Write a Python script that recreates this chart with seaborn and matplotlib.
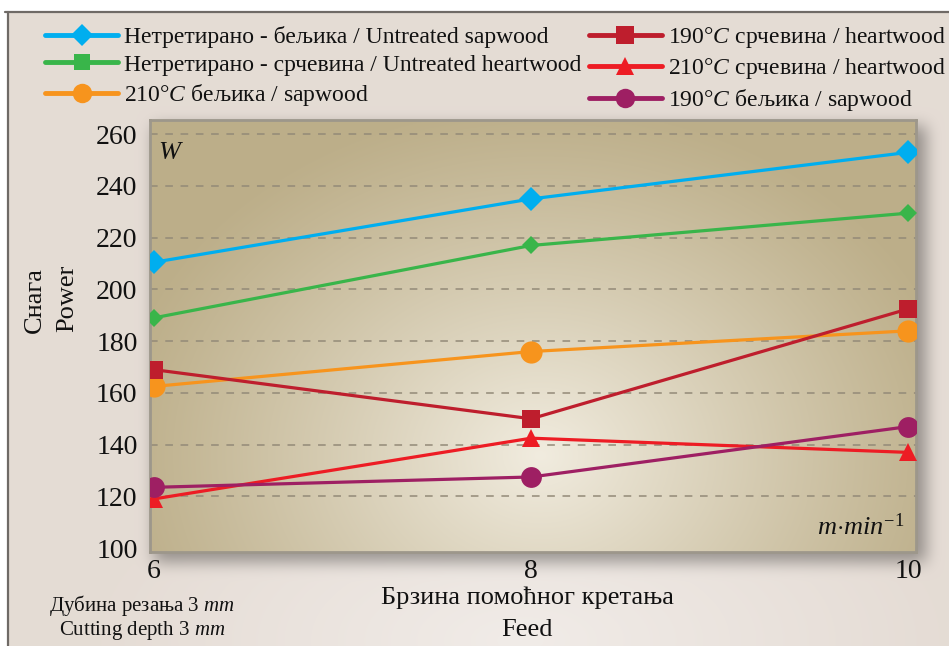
import numpy as np
import matplotlib
matplotlib.use("Agg")
import matplotlib.pyplot as plt
from matplotlib import font_manager
from matplotlib.font_manager import FontProperties
import seaborn as sns
from matplotlib.lines import Line2D

# ---- data -------------------------------------------------------------
feed = [6, 8, 10]
untreated_sapwood = [210.5, 235, 253]
untreated_heartwood = [189, 217, 229.5]
t210_sapwood = [162.5, 176, 184]
t190_heartwood = [169, 150, 192.5]
t210_heartwood = [119, 142.5, 137]
t190_sapwood = [123.5, 127.5, 147]

series_labels = [
    "Нетретирано - бељика / Untreated sapwood",
    "Нетретирано - срчевина / Untreated heartwood",
    "210°$C$ бељика / sapwood",
    "190°$C$ срчевина / heartwood",
    "210°$C$ срчевина / heartwood",
    "190°$C$ бељика / sapwood",
]
y_ticks = [100, 120, 140, 160, 180, 200, 220, 240, 260]
x_ticks = [6, 8, 10]

# ---- style ------------------------------------------------------------
sns.set_theme(style="white")
SERIF = "Liberation Serif"


def serif_file():
    for f in font_manager.fontManager.ttflist:
        if f.name == SERIF and f.style == "normal" and f.weight in (400, "normal"):
            return f.fname
    return font_manager.findfont(FontProperties(family="serif"))


SERIF_FILE = serif_file()


def fp(size):
    return FontProperties(fname=SERIF_FILE, size=size)


plt.rcParams["font.family"] = SERIF
plt.rcParams["mathtext.fontset"] = "custom"
plt.rcParams["mathtext.rm"] = SERIF
plt.rcParams["mathtext.it"] = SERIF + ":italic"
INK = "#111111"

colors = ["#00AEEF", "#39B54A", "#F7941D", "#BE1E2D", "#ED1C24", "#9E1F63"]
markers = ["D", "D", "o", "s", "^", "o"]
legend_markers = ["D", "s", "o", "s", "^", "o"]
msizes = [12, 9.5, 16, 13, 13, 15]
legend_msizes = [11, 12, 14, 13, 13, 14]

W, H = 949, 646
fig = plt.figure(figsize=(W / 100, H / 100), dpi=100)

# plot rectangle in pixels (left, top, right, bottom)
L, T, R, B = 150, 120, 916, 552


def box_blur(a, r, axis):
    pad = [(0, 0)] * a.ndim
    pad[axis] = (r + 1, r)
    c = np.cumsum(np.pad(a, pad, mode="edge"), axis=axis)
    n = a.shape[axis]
    hi = np.take(c, np.arange(2 * r + 1, 2 * r + 1 + n), axis=axis)
    lo = np.take(c, np.arange(0, n), axis=axis)
    return (hi - lo) / (2 * r + 1)


def blur(a, r):
    for _ in range(3):
        a = box_blur(a, r, 0)
        a = box_blur(a, r, 1)
    return a


# ---- page background with soft shadow under the plot panel -----------
yy, xx = np.mgrid[0:H, 0:W].astype(float)
base = np.array([0.898, 0.863, 0.835])
light = np.array([0.945, 0.925, 0.910])
d = np.sqrt(((xx - 520) / 420) ** 2 + ((yy - 640) / 200) ** 2)
t = np.clip(1 - d, 0, 1)[..., None]
page = base * (1 - t) + light * t

shadow = np.zeros((H, W))
shadow[T + 6:B + 10, L + 4:R + 10] = 1.0
shadow = blur(shadow, 7)
page = page * (1 - 0.35 * shadow[..., None])

page[:12, :, :] = 1.0
page[:, :8, :] = 1.0

bg = fig.add_axes([0, 0, 1, 1], zorder=-10)
bg.imshow(page, extent=[0, W, H, 0], aspect="auto", interpolation="bilinear")
bg.plot([5, W], [12, 12], color="#6f6a66", lw=1.6)
bg.plot([8, 8], [12, H], color="#6f6a66", lw=1.6)
bg.set_xlim(0, W)
bg.set_ylim(H, 0)
bg.axis("off")

# ---- main axes --------------------------------------------------------
ax = fig.add_axes([L / W, 1 - B / H, (R - L) / W, (B - T) / H])
ax.set_facecolor("none")
XL = (5.98, 10.04)
YL = (98.5, 265.5)
ax.set_xlim(*XL)
ax.set_ylim(*YL)

# warm radial gradient inside the panel
gy, gx = np.mgrid[T:B, L:R].astype(float)
gd = np.sqrt(((gx - 540) / 430) ** 2 + ((gy - 455) / 350) ** 2)
gt = np.clip(1 - gd, 0, 1) ** 1.1
tan = np.array([0.740, 0.685, 0.540])
cream = np.array([0.945, 0.925, 0.875])
panel = tan * (1 - gt[..., None]) + cream * gt[..., None]
ax.imshow(panel, extent=[XL[0], XL[1], YL[0], YL[1]], aspect="auto",
          interpolation="bilinear", zorder=0)

for yv in y_ticks[1:]:
    ax.axhline(yv, color="#938a78", lw=1.1, ls=(0, (5, 5)), zorder=1)

all_series = [untreated_sapwood, untreated_heartwood, t210_sapwood,
              t190_heartwood, t210_heartwood, t190_sapwood]
for vals, c, m, ms in zip(all_series, colors, markers, msizes):
    sns.lineplot(x=feed, y=vals, ax=ax, color=c, lw=2.3, marker=m,
                 markersize=ms, markeredgewidth=0, zorder=3)

for s in ax.spines.values():
    s.set_color("#9d978b")
    s.set_linewidth(2)

ax.set_xticks(x_ticks)
ax.set_yticks(y_ticks)
ax.tick_params(axis="y", direction="out", length=5, width=1, color="#777",
               pad=4, labelcolor=INK)
ax.tick_params(axis="x", direction="in", length=5, width=1, color="#777",
               pad=5, labelcolor=INK)
for lab in ax.get_xticklabels() + ax.get_yticklabels():
    lab.set_fontproperties(fp(20))
ax.set_xlabel("")
ax.set_ylabel("")

ax.text(0.01, 0.924, "$W$", transform=ax.transAxes, fontsize=19,
        ha="left", va="center", color=INK)
ax.text(0.985, 0.058, r"$m{\cdot}min^{-1}$", transform=ax.transAxes,
        fontsize=19, ha="right", va="center", color=INK)

# ---- axis titles and notes -------------------------------------------
fig.text(35 / W, 1 - 300 / H, "Снага", rotation=90, ha="center",
         va="center", fontproperties=fp(19), color=INK)
fig.text(67 / W, 1 - 298 / H, "Power", rotation=90, ha="center",
         va="center", fontproperties=fp(19), color=INK)
fig.text(527 / W, 1 - 598 / H, "Брзина помоћног кретања", ha="center",
         va="center", fontproperties=fp(19), color=INK)
fig.text(527 / W, 1 - 630 / H, "Feed", ha="center", va="center",
         fontproperties=fp(19), color=INK)
fig.text(142 / W, 1 - 606 / H, "Дубина резања 3 $mm$", ha="center",
         va="center", fontproperties=fp(15), color=INK)
fig.text(142 / W, 1 - 630 / H, "Cutting depth 3 $mm$", ha="center",
         va="center", fontproperties=fp(15), color=INK)

# ---- legend -----------------------------------------------------------
handles = [Line2D([], [], color=c, lw=3.5, marker=m, markersize=ms,
                  markeredgewidth=0)
           for c, m, ms in zip(colors, legend_markers, legend_msizes)]
fig.legend(handles, series_labels, ncol=2, loc="upper left",
           bbox_to_anchor=(45 / W, 1 - 25 / H), frameon=False,
           prop=fp(17), handlelength=3.1,
           handletextpad=0.25, columnspacing=0.3, labelspacing=0.26,
           borderpad=0, borderaxespad=0, labelcolor=INK)

fig.savefig("out.png", dpi=100)
